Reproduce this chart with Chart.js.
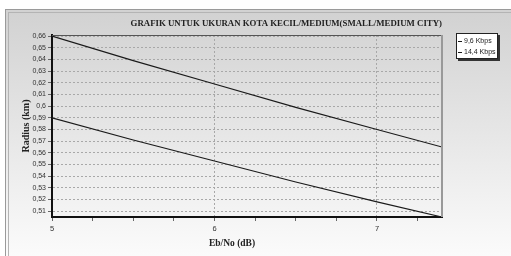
<!DOCTYPE html>
<html>
<head>
<meta charset="utf-8">
<script src="https://cdn.jsdelivr.net/npm/chart.js@4.4.1/dist/chart.umd.min.js"></script>
<style>
  html, body { margin: 0; padding: 0; background: #fff; }
</style>
</head>
<body>
<canvas id="chartCanvas" width="511" height="256"></canvas>
<script>
// values
const ebNo = [5, 5.5, 6, 6.5, 7, 7.4];
const radius96 = [0.66, 0.639, 0.619, 0.599, 0.580, 0.565];
const radius144 = [0.59, 0.571, 0.553, 0.535, 0.518, 0.505];
const seriesNames = ['9,6 Kbps', '14,4 Kbps'];
const yTicks = [0.51, 0.52, 0.53, 0.54, 0.55, 0.56, 0.57, 0.58, 0.59, 0.6, 0.61, 0.62, 0.63, 0.64, 0.65, 0.66];
const xTicks = [5, 5.25, 5.5, 5.75, 6, 6.25, 6.5, 6.75, 7, 7.25];
const chartTitle = 'GRAFIK UNTUK UKURAN KOTA KECIL/MEDIUM(SMALL/MEDIUM CITY)';
const xTitle = 'Eb/No (dB)';
const yTitle = 'Radius (km)';

const toPoints = (ys) => ebNo.map((x, i) => ({ x: x, y: ys[i] }));
const comma = (v) => String(v).replace('.', ',');
const serif = '"Liberation Serif", "Times New Roman", serif';
const sans = '"Liberation Sans", Arial, sans-serif';

// grey panel with double frame behind everything
const panelBg = {
    id: 'panelBg',
    beforeDraw(chart) {
        const { ctx, width, height } = chart;
        ctx.save();
        ctx.fillStyle = '#fff';
        ctx.fillRect(0, 0, width, height);
        const g = ctx.createLinearGradient(0, 13, 0, height);
        g.addColorStop(0, '#d2d2d2');
        g.addColorStop(1, '#fbfbfb');
        ctx.fillStyle = g;
        ctx.fillRect(6, 10, width, height);
        ctx.strokeStyle = '#9a9a9a';
        ctx.lineWidth = 1;
        ctx.strokeRect(5.5, 9.5, width, height);
        ctx.strokeStyle = '#b4b4b4';
        ctx.strokeRect(8.5, 12.5, width, height);
        ctx.restore();
    }
};

// top / right frame of the plot, x axis title and the boxed legend
const frameAndLegend = {
    id: 'frameAndLegend',
    afterDatasetsDraw(chart) {
        const { ctx, chartArea } = chart;
        ctx.save();
        ctx.strokeStyle = '#555';
        ctx.lineWidth = 1;
        ctx.beginPath();
        ctx.moveTo(chartArea.left, chartArea.top + 0.5);
        ctx.lineTo(chartArea.right, chartArea.top + 0.5);
        ctx.stroke();
        ctx.strokeStyle = '#999';
        ctx.lineWidth = 2;
        ctx.beginPath();
        ctx.moveTo(chartArea.right, chartArea.top);
        ctx.lineTo(chartArea.right, chartArea.bottom);
        ctx.stroke();

        // x axis title, sitting a little left of the plot centre as in the original
        ctx.font = 'bold 9.5px ' + serif;
        ctx.fillStyle = '#222';
        ctx.textAlign = 'center';
        ctx.textBaseline = 'middle';
        ctx.fillText(xTitle, 232, 244);

        // legend box
        const bx = 456, by = 33, bw = 42, bh = 26;
        ctx.fillStyle = '#333';
        ctx.fillRect(bx + 2, by + 2, bw, bh);
        ctx.fillStyle = '#fff';
        ctx.fillRect(bx, by, bw, bh);
        ctx.strokeStyle = '#222';
        ctx.lineWidth = 1;
        ctx.strokeRect(bx + 0.5, by + 0.5, bw - 1, bh - 1);
        ctx.font = '7px ' + sans;
        ctx.textAlign = 'left';
        ctx.fillStyle = '#222';
        chart.data.datasets.forEach((ds, i) => {
            const y = by + 8 + i * 11;
            ctx.strokeStyle = ds.borderColor;
            ctx.lineWidth = 1;
            ctx.beginPath();
            ctx.moveTo(bx + 2, y + 0.5);
            ctx.lineTo(bx + 6, y + 0.5);
            ctx.stroke();
            ctx.fillText(ds.label, bx + 8, y);
        });
        ctx.restore();
    }
};

new Chart(document.getElementById('chartCanvas'), {
    type: 'line',
    data: {
        datasets: [{
            label: seriesNames[0],
            data: toPoints(radius96),
            borderColor: '#1a1a1a',
            borderWidth: 1.2,
            pointRadius: 0,
            tension: 0
        }, {
            label: seriesNames[1],
            data: toPoints(radius144),
            borderColor: '#1a1a1a',
            borderWidth: 1.2,
            pointRadius: 0,
            tension: 0
        }]
    },
    options: {
        responsive: false,
        animation: false,
        devicePixelRatio: 1,
        layout: { padding: { top: 14, left: 8, right: 69, bottom: 0 } },
        plugins: {
            legend: { display: false },
            tooltip: { enabled: false },
            title: {
                display: true,
                text: chartTitle,
                fullSize: false,
                align: 'end',
                color: '#222',
                font: { family: serif, size: 8.8, weight: 'bold', lineHeight: '12px' },
                padding: { top: 4, bottom: 5 }
            }
        },
        scales: {
            x: {
                type: 'linear',
                min: 5,
                max: 7.4,
                afterBuildTicks: (scale) => { scale.ticks = xTicks.map(v => ({ value: v })); },
                afterFit: (scale) => { scale.height = 39; },
                ticks: {
                    autoSkip: false,
                    maxRotation: 0,
                    padding: 3,
                    color: '#333',
                    font: { family: sans, size: 7.5 },
                    callback: (v) => Number.isInteger(v) ? comma(v) : ''
                },
                grid: {
                    color: (c) => (c.tick && Number.isInteger(c.tick.value) && c.tick.value !== 5) ? '#a8a8a8' : 'rgba(0,0,0,0)',
                    tickColor: '#666',
                    tickLength: 4,
                    lineWidth: 1
                },
                border: { display: true, color: '#111', width: 2, dash: [2, 2] },
                title: { display: false, text: xTitle }
            },
            y: {
                type: 'linear',
                min: 0.505,
                max: 0.661,
                afterBuildTicks: (scale) => { scale.ticks = yTicks.map(v => ({ value: v })); },
                afterFit: (scale) => { scale.width = 44; },
                ticks: {
                    autoSkip: false,
                    padding: 2,
                    color: '#333',
                    font: { family: sans, size: 7 },
                    callback: (v) => comma(v)
                },
                grid: {
                    color: '#a8a8a8',
                    tickColor: '#666',
                    tickLength: 4,
                    lineWidth: 1
                },
                border: { display: true, color: '#111', width: 2, dash: [2, 2] },
                title: {
                    display: true,
                    text: yTitle,
                    color: '#222',
                    font: { family: serif, size: 10, weight: 'bold', lineHeight: '12px' },
                    padding: { top: 12, bottom: 0 }
                }
            }
        }
    },
    plugins: [panelBg, frameAndLegend]
});
</script>
</body>
</html>
